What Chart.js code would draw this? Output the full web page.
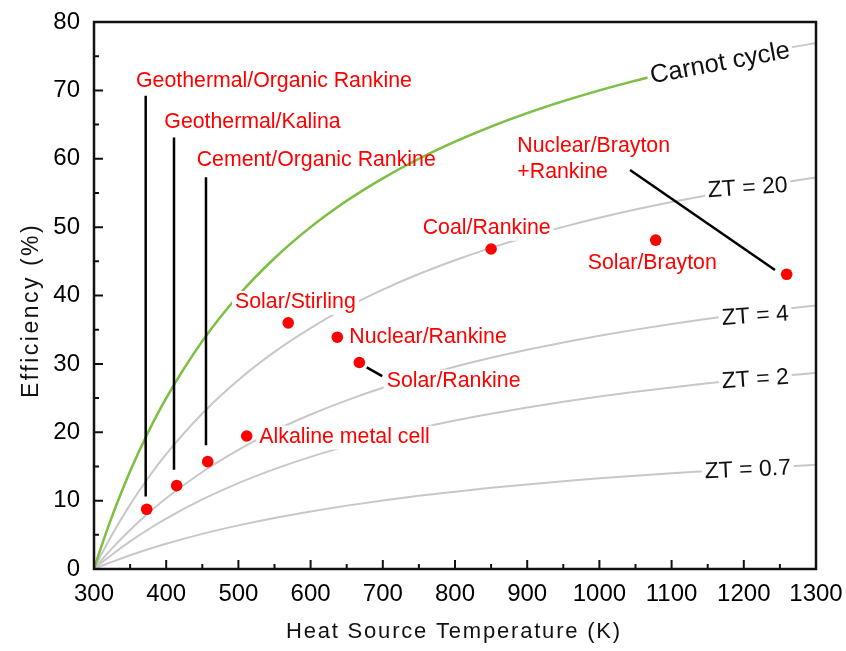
<!DOCTYPE html>
<html>
<head>
<meta charset="utf-8">
<script src="https://cdn.jsdelivr.net/npm/chart.js@4.4.1/dist/chart.umd.min.js"></script>
<style>
  body { margin: 0; background: #fff; }
  #wrap { width: 846px; height: 651px; }
</style>
</head>
<body>
<div id="wrap"><canvas id="c"></canvas></div>
<script>
const FONT = '"Liberation Sans", Arial, sans-serif'

// heat source temperature (K) for the efficiency curves
const temps = [300, 305, 310, 325, 350, 375, 400, 450, 500, 550, 600, 650, 700, 750, 800, 850, 900, 950, 1000, 1050, 1100, 1150, 1200, 1250, 1300]
const carnot = [0, 1.64, 3.23, 7.69, 14.29, 20.0, 25.0, 33.33, 40.0, 45.45, 50.0, 53.85, 57.14, 60.0, 62.5, 64.71, 66.67, 68.42, 70.0, 71.43, 72.73, 73.91, 75.0, 76.0, 76.92]
const zt20 = [0, 1.06, 2.08, 5.01, 9.41, 13.31, 16.80, 22.75, 27.65, 31.76, 35.24, 38.25, 40.85, 43.14, 45.16, 46.97, 48.59, 50.04, 51.36, 52.57, 53.67, 54.67, 55.60, 56.46, 57.25]
const zt4 = [0, 0.63, 1.24, 3.01, 5.71, 8.14, 10.35, 14.19, 17.43, 20.20, 22.59, 24.67, 26.51, 28.13, 29.59, 30.89, 32.07, 33.14, 34.12, 35.01, 35.83, 36.59, 37.29, 37.94, 38.55]
const zt2 = [0, 0.44, 0.87, 2.12, 4.04, 5.78, 7.37, 10.17, 12.56, 14.61, 16.40, 17.97, 19.36, 20.60, 21.72, 22.72, 23.63, 24.46, 25.22, 25.92, 26.56, 27.15, 27.70, 28.21, 28.69]
const zt07 = [0, 0.22, 0.43, 1.05, 2.01, 2.89, 3.70, 5.14, 6.38, 7.47, 8.42, 9.27, 10.02, 10.70, 11.31, 11.87, 12.37, 12.84, 13.26, 13.65, 14.02, 14.35, 14.66, 14.96, 15.23]

// green part of the Carnot curve
const cycleT = [300, 305, 310, 325, 350, 375, 400, 450, 500, 550, 600, 650, 700, 750, 800, 850, 900, 950, 1000, 1050, 1070]
const cycleEff = [0, 1.64, 3.23, 7.69, 14.29, 20.0, 25.0, 33.33, 40.0, 45.45, 50.0, 53.85, 57.14, 60.0, 62.5, 64.71, 66.67, 68.42, 70.0, 71.43, 71.96]

// power plants
const plantT = [373, 414.5, 457.5, 511.5, 569, 637, 667.5, 850, 1078, 1259.4]
const plantEff = [8.73, 12.2, 15.7, 19.45, 36.0, 33.9, 30.2, 46.8, 48.1, 43.1]

// pointer lines from labels to dots: [x1, y1, x2, y2]
const leaders = [
    [371.6, 69.2, 371.6, 10.6],
    [410.8, 63.1, 410.8, 14.5],
    [455.1, 57.3, 455.1, 18.1],
    [1042.4, 58.35, 1243.2, 43.73],
    [677.7, 29.5, 699.2, 28.2]
]

// text placed in data units (left end of baseline)
const plantNotes = [
    { text: 'Geothermal/Organic Rankine', x: 358.2, y: 70.5, clear: true },
    { text: 'Geothermal/Kalina', x: 397.4, y: 64.45, clear: true },
    { text: 'Cement/Organic Rankine', x: 442.2, y: 58.98, clear: false },
    { text: 'Solar/Stirling', x: 495.3, y: 38.17, clear: true },
    { text: 'Nuclear/Rankine', x: 653.6, y: 33.0, clear: true },
    { text: 'Solar/Rankine', x: 705.4, y: 26.66, clear: true },
    { text: 'Alkaline metal cell', x: 529, y: 18.47, clear: true },
    { text: 'Coal/Rankine', x: 755.3, y: 49.0, clear: true },
    { text: 'Nuclear/Brayton', x: 886.3, y: 61.03, clear: true },
    { text: '+Rankine', x: 886.3, y: 57.14, clear: true },
    { text: 'Solar/Brayton', x: 983.8, y: 43.83, clear: true }
]
const curveNotes = [
    { text: 'Carnot cycle', x: 1072.4, y: 71.03, angle: -10.5, size: 25.5 },
    { text: 'ZT = 20', x: 1150.8, y: 54.36, angle: -4, size: 23 },
    { text: 'ZT = 4', x: 1170.2, y: 35.69, angle: -4, size: 23 },
    { text: 'ZT = 2', x: 1170.2, y: 26.43, angle: -4, size: 23 },
    { text: 'ZT = 0.7', x: 1146.3, y: 13.27, angle: -2.5, size: 23 }
]

function pts(xs, ys) {
    return xs.map((x, i) => ({ x: x, y: ys[i] }))
}

function curve(xs, ys, color, width) {
    return {
        data: pts(xs, ys),
        showLine: true,
        borderColor: color,
        borderWidth: width,
        pointRadius: 0,
        cubicInterpolationMode: 'monotone'
    }
}

let datasets = [{
    data: pts(plantT, plantEff),
    backgroundColor: '#ff0000',
    borderColor: '#ff0000',
    pointRadius: 5.8,
    borderWidth: 0
}]
leaders.forEach(l => {
    datasets.push({
        data: [{ x: l[0], y: l[1] }, { x: l[2], y: l[3] }],
        showLine: true,
        borderColor: '#000',
        borderWidth: 2.5,
        pointRadius: 0
    })
})
datasets.push(curve(cycleT, cycleEff, '#7dc142', 2.5))
datasets.push(curve(temps, carnot, '#c8c8c8', 2))
datasets.push(curve(temps, zt20, '#c8c8c8', 2))
datasets.push(curve(temps, zt4, '#c8c8c8', 2))
datasets.push(curve(temps, zt2, '#c8c8c8', 2))
datasets.push(curve(temps, zt07, '#c8c8c8', 2))

function putText(ctx, chart, n, size, color, clear) {
    const px = chart.scales.x.getPixelForValue(n.x)
    const py = chart.scales.y.getPixelForValue(n.y)
    ctx.save()
    ctx.translate(px, py)
    ctx.rotate((n.angle || 0) * Math.PI / 180)
    ctx.font = size + 'px ' + FONT
    ctx.textBaseline = 'alphabetic'
    ctx.textAlign = 'left'
    if (clear) {
        const w = ctx.measureText(n.text).width
        ctx.fillStyle = '#fff'
        ctx.fillRect(-3, -size * 0.8, w + 6, size * 1.12)
    }
    ctx.fillStyle = color
    ctx.fillText(n.text, 0, 0)
    ctx.restore()
}

const decor = {
    id: 'decor',
    beforeDraw(chart) {
        const ctx = chart.ctx
        ctx.save()
        ctx.fillStyle = '#fff'
        ctx.fillRect(0, 0, chart.width, chart.height)
        ctx.restore()
    },
    afterDatasetsDraw(chart) {
        const ctx = chart.ctx
        curveNotes.forEach(n => putText(ctx, chart, n, n.size, '#111', true))
        plantNotes.forEach(n => putText(ctx, chart, n, 21.3, '#ff0000', n.clear))
    },
    afterDraw(chart) {
        const ctx = chart.ctx
        const a = chart.chartArea
        const sx = chart.scales.x, sy = chart.scales.y
        ctx.save()
        ctx.strokeStyle = '#111'
        ctx.lineWidth = 2
        // inward ticks
        ctx.beginPath()
        for (let v = 5; v < 80; v += 5) {
            const y = sy.getPixelForValue(v)
            ctx.moveTo(a.left, y)
            ctx.lineTo(a.left + (v % 10 === 0 ? 9 : 5), y)
        }
        for (let v = 350; v < 1300; v += 50) {
            const x = sx.getPixelForValue(v)
            ctx.moveTo(x, a.bottom)
            ctx.lineTo(x, a.bottom - (v % 100 === 0 ? 9 : 5))
        }
        ctx.stroke()
        // frame
        ctx.lineWidth = 2.5
        ctx.strokeRect(a.left, a.top, a.right - a.left, a.bottom - a.top)

        // axis titles
        ctx.fillStyle = '#111'
        ctx.textBaseline = 'alphabetic'
        ctx.textAlign = 'left'
        ctx.font = '22px ' + FONT
        ctx.letterSpacing = '1.8px'
        ctx.fillText('Heat Source Temperature (K)', 286, 638)
        ctx.translate(38, 398)
        ctx.rotate(-Math.PI / 2)
        ctx.font = '23px ' + FONT
        ctx.letterSpacing = '2.5px'
        ctx.fillText('Efficiency (%)', 0, 0)
        ctx.restore()
    }
}

new Chart(document.getElementById('c'), {
    type: 'scatter',
    data: { datasets: datasets },
    options: {
        responsive: true,
        maintainAspectRatio: false,
        animation: false,
        layout: { padding: { top: 22, right: 30, left: 0, bottom: 0 } },
        plugins: {
            legend: { display: false },
            tooltip: { enabled: false }
        },
        scales: {
            x: {
                type: 'linear',
                min: 300,
                max: 1300,
                afterFit: s => {
                    s.height = 82
                    s.paddingLeft = 0
                    s.paddingRight = 0
                },
                grid: { display: false, drawTicks: false },
                border: { display: false },
                ticks: {
                    stepSize: 100,
                    padding: 11,
                    color: '#000',
                    font: { family: FONT, size: 24 },
                    callback: v => String(v)
                }
            },
            y: {
                min: 0,
                max: 80,
                afterFit: s => {
                    s.width = 94
                    s.paddingTop = 0
                    s.paddingBottom = 0
                },
                grid: { display: false, drawTicks: false },
                border: { display: false },
                ticks: {
                    stepSize: 10,
                    padding: 14,
                    color: '#000',
                    font: { family: FONT, size: 24 }
                }
            }
        }
    },
    plugins: [decor]
})
</script>
</body>
</html>
